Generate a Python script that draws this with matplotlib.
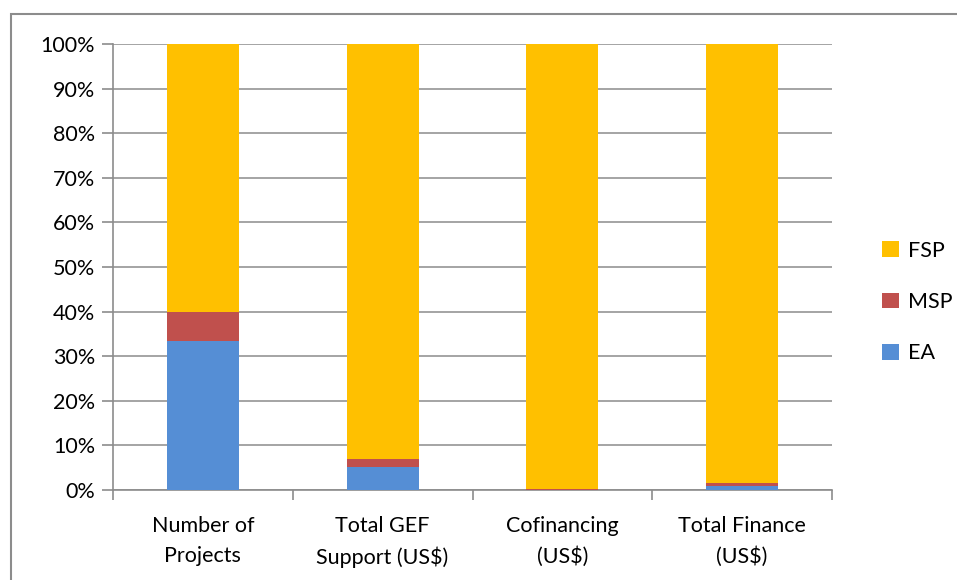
import matplotlib
matplotlib.use("Agg")
import matplotlib.pyplot as plt
from matplotlib.patches import Rectangle
from matplotlib.ticker import PercentFormatter

categories = ["Number of\nProjects", "Total GEF\nSupport (US$)", "Cofinancing\n(US$)", "Total Finance\n(US$)"]
ea = [33.3, 5.2, 0.1, 0.8]
msp = [6.7, 1.8, 0.2, 0.7]
fsp = [100 - a - b for a, b in zip(ea, msp)]

plt.rcParams["font.family"] = ["Lato", "DejaVu Sans"]

fig = plt.figure(figsize=(9.57, 5.8), dpi=100)
ax = fig.add_axes([113 / 957, 1 - 490 / 580, (832 - 113) / 957, (490 - 44) / 580])

# outer chart frame
fig.patches.append(Rectangle((11 / 957, -0.01), 1.0, 1 - 14 / 580 + 0.01,
                             transform=fig.transFigure, fill=False,
                             edgecolor="#8c8c8c", linewidth=1.5))

x = range(len(categories))
w = 0.4
ax.bar(x, ea, w, color="#558ed5", label="EA", zorder=3)
ax.bar(x, msp, w, bottom=ea, color="#c0504d", label="MSP", zorder=3)
bottoms = [a + b for a, b in zip(ea, msp)]
ax.bar(x, fsp, w, bottom=bottoms, color="#ffc000", label="FSP", zorder=3)

ax.set_xlim(-0.5, len(categories) - 0.5)
ax.set_ylim(0, 100)
ax.set_yticks(range(0, 101, 10))
ax.yaxis.set_major_formatter(PercentFormatter(decimals=0))
ax.grid(axis="y", color="#959595", linewidth=1.2, zorder=0)

ax.set_xticks([i - 0.5 for i in range(len(categories) + 1)])
ax.set_xticklabels([])
ax.set_xticks(list(x), minor=True)
ax.set_xticklabels(categories, minor=True, fontsize=15.5, linespacing=1.6)
ax.tick_params(axis="x", which="minor", length=0, pad=19)
ax.tick_params(axis="x", which="major", length=7, color="#8c8c8c", width=1.2)
ax.tick_params(axis="y", length=8, color="#8c8c8c", width=1.2, labelsize=15.5, pad=5)

for side in ["top", "right"]:
    ax.spines[side].set_visible(False)
for side in ["left", "bottom"]:
    ax.spines[side].set_color("#8c8c8c")
    ax.spines[side].set_linewidth(1.2)

handles, labels = ax.get_legend_handles_labels()
fig.legend(handles[::-1], labels[::-1], loc="center left",
           bbox_to_anchor=(863 / 957, 1 - 302 / 580), frameon=False,
           fontsize=15.5, handlelength=0.75, handleheight=0.75,
           labelspacing=1.45, handletextpad=0.45)

fig.savefig("out.png", dpi=100)
